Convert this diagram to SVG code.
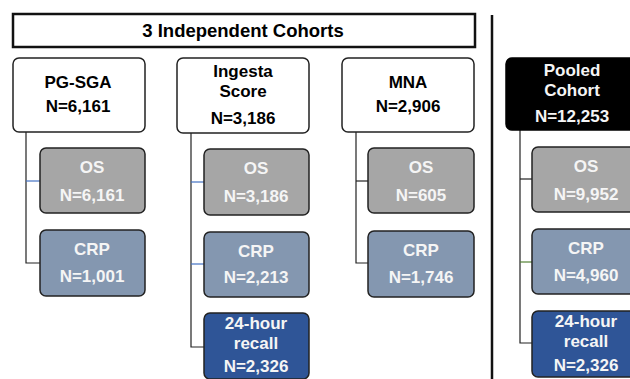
<svg xmlns="http://www.w3.org/2000/svg" width="630" height="379" viewBox="0 0 630 379">
<style>
text{font-family:"Liberation Sans",Arial,sans-serif;font-weight:bold;font-size:17px;text-anchor:middle}
.w{fill:#fff;stroke:#222;stroke-width:1.5}
.k{fill:#000;stroke:#000;stroke-width:1.5}
.os{fill:#a6a6a6;stroke:#222;stroke-width:1.5}
.crp{fill:#8497b0;stroke:#222;stroke-width:1.5}
.rec{fill:#2f5597;stroke:#222;stroke-width:1.5}
.dt{fill:#000}
.lt{fill:#f5f5f5}
.c{fill:none;stroke:#222;stroke-width:1.2}
.cb{fill:none;stroke:#4472c4;stroke-width:1.2}
.cg{fill:none;stroke:#548235;stroke-width:1.2}
</style>
<rect width="630" height="379" fill="#fff"/>
<g id="title">
<rect x="13" y="14" width="462" height="33" fill="#fff" stroke="#111" stroke-width="2.5"/>
<text x="243" y="37" class="dt" style="font-size:18.5px">3 Independent Cohorts</text>
</g>
<line x1="492" y1="15" x2="492" y2="379" stroke="#111" stroke-width="2.5"/>
<g id="connectors">
<path class="c" d="M26 132V263H40"/>
<path class="cb" d="M26 181H40"/>
<path class="c" d="M191 133V347H204"/>
<path class="cb" d="M191 182H204"/>
<path class="cb" d="M191 264H204"/>
<path class="c" d="M356 132V263H368"/>
<path class="c" d="M356 181H368"/>
<path class="c" d="M520 130V343H532"/>
<path class="c" d="M520 179H532"/>
<path class="cg" d="M520 262H532"/>
</g>
<g id="pgsga">
<rect class="w" x="13" y="58" width="132" height="74" rx="6"/>
<text x="78" y="88" class="dt">PG-SGA</text>
<text x="78" y="112" class="dt">N=6,161</text>
</g>
<g id="pgsga-os">
<rect class="os" x="40" y="148" width="105" height="65" rx="6"/>
<text x="92" y="173" class="lt">OS</text>
<text x="92" y="201" class="lt">N=6,161</text>
</g>
<g id="pgsga-crp">
<rect class="crp" x="40" y="230" width="105" height="66" rx="6"/>
<text x="92" y="255" class="lt">CRP</text>
<text x="92" y="282" class="lt">N=1,001</text>
</g>
<g id="ingesta">
<rect class="w" x="177" y="58" width="132" height="75" rx="6"/>
<text x="243" y="77" class="dt">Ingesta</text>
<text x="243" y="97" class="dt">Score</text>
<text x="243" y="124" class="dt">N=3,186</text>
</g>
<g id="ingesta-os">
<rect class="os" x="204" y="149" width="105" height="66" rx="6"/>
<text x="256" y="174" class="lt">OS</text>
<text x="256" y="202" class="lt">N=3,186</text>
</g>
<g id="ingesta-crp">
<rect class="crp" x="204" y="232" width="105" height="65" rx="6"/>
<text x="256" y="257" class="lt">CRP</text>
<text x="256" y="283" class="lt">N=2,213</text>
</g>
<g id="ingesta-recall">
<rect class="rec" x="204" y="313" width="105" height="66" rx="6"/>
<text x="256" y="329" class="lt">24-hour</text>
<text x="256" y="349" class="lt">recall</text>
<text x="256" y="372" class="lt">N=2,326</text>
</g>
<g id="mna">
<rect class="w" x="342" y="58" width="132" height="74" rx="6"/>
<text x="408" y="88" class="dt">MNA</text>
<text x="408" y="112" class="dt">N=2,906</text>
</g>
<g id="mna-os">
<rect class="os" x="368" y="148" width="106" height="65" rx="6"/>
<text x="421" y="173" class="lt">OS</text>
<text x="421" y="201" class="lt">N=605</text>
</g>
<g id="mna-crp">
<rect class="crp" x="368" y="231" width="106" height="66" rx="6"/>
<text x="421" y="256" class="lt">CRP</text>
<text x="421" y="283" class="lt">N=1,746</text>
</g>
<g id="pooled">
<rect class="k" x="506" y="58" width="132" height="72" rx="6"/>
<text x="572" y="76" class="lt">Pooled</text>
<text x="572" y="96" class="lt">Cohort</text>
<text x="572" y="122" class="lt">N=12,253</text>
</g>
<g id="pooled-os">
<rect class="os" x="532" y="147" width="108" height="65" rx="6"/>
<text x="586" y="172" class="lt">OS</text>
<text x="586" y="200" class="lt">N=9,952</text>
</g>
<g id="pooled-crp">
<rect class="crp" x="532" y="229" width="108" height="65" rx="6"/>
<text x="586" y="254" class="lt">CRP</text>
<text x="586" y="281" class="lt">N=4,960</text>
</g>
<g id="pooled-recall">
<rect class="rec" x="532" y="311" width="108" height="66" rx="6"/>
<text x="586" y="327" class="lt">24-hour</text>
<text x="586" y="347" class="lt">recall</text>
<text x="586" y="371" class="lt">N=2,326</text>
</g>
</svg>
